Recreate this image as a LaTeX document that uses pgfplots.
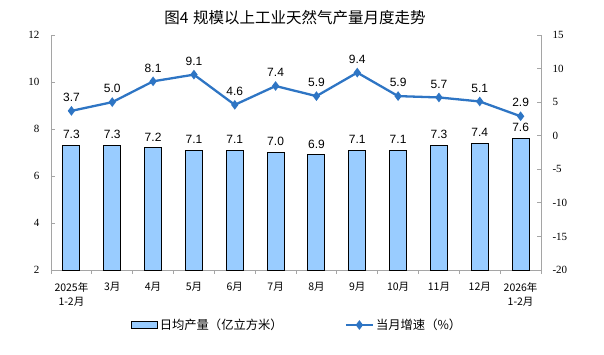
\documentclass[border=0pt]{standalone}
\usepackage{pgfplots}
\pgfplotsset{compat=1.18}
\usepackage{fontspec}
\setmainfont{Liberation Serif}
\newfontfamily\cjk{Noto Sans CJK SC}
\newfontfamily\arial{Liberation Sans}
\definecolor{barfill}{HTML}{99CCFF}
\definecolor{linec}{RGB}{46,117,196}
\definecolor{axgray}{RGB}{165,165,165}
\pgfplotsset{linelegend/.style={legend image code/.code={\draw[mark repeat=2, mark phase=2, ##1] plot coordinates {(0pt,0pt) (13.5pt,0pt) (27pt,0pt)};}}}
\begin{document}
\begin{tikzpicture}
\path[use as bounding box] (0pt,0pt) rectangle (604pt,354pt);
\node[font=\cjk\fontsize{15.5}{16}\selectfont] at (295pt,336pt) {图4\hspace{0.3em}规模以上工业天然气产量月度走势};
\begin{axis}[
  at={(51pt,84pt)}, anchor=south west,
  scale only axis, width=490pt, height=235pt,
  xmin=-0.5, xmax=11.5, ymin=2, ymax=12,
  axis x line*=bottom, axis y line*=left,
  axis line style={axgray, line width=0.8pt},
  tick align=inside,
  ytick={2,4,...,12},
  major tick length=4pt, minor tick length=4pt,
  every tick/.style={axgray, line width=0.8pt},
  xtick={0,...,11},
  minor xtick={-0.5,0.5,...,11.5},
  major x tick style={draw=none},
  xticklabels={{2025年\\1-2月},3月,4月,5月,6月,7月,8月,9月,10月,11月,12月,{2026年\\1-2月}},
  xticklabel style={font=\cjk\fontsize{10.5}{14.5}\selectfont, align=center, yshift=-5pt},
  yticklabel style={font=\fontsize{11}{12}\selectfont, xshift=-8pt},
  /pgf/number format/assume math mode=true,
  ybar, bar width=17pt,
  nodes near coords,
  nodes near coords style={font=\arial\fontsize{12}{12}\selectfont, text=black, inner sep=1pt, yshift=5pt,
    /pgf/number format/.cd, fixed, fixed zerofill, precision=1},
]
\addplot[fill=barfill, draw=black, line width=1pt] coordinates {
(0,7.3) (1,7.3) (2,7.2) (3,7.1) (4,7.1) (5,7.0) (6,6.9) (7,7.1) (8,7.1) (9,7.3) (10,7.4) (11,7.6)};
\end{axis}
\begin{axis}[
  at={(51pt,84pt)}, anchor=south west,
  scale only axis, width=490pt, height=235pt,
  xmin=-0.5, xmax=11.5, ymin=-20, ymax=15,
  axis x line=none, axis y line*=right,
  axis line style={axgray, line width=0.8pt},
  tick align=inside,
  ytick={-20,-15,...,15},
  major tick length=4pt,
  every tick/.style={axgray, line width=0.8pt},
  yticklabel style={font=\fontsize{11}{12}\selectfont, xshift=8pt},
  /pgf/number format/assume math mode=true,
  legend columns=2,
  legend style={at={(0.502,-0.234)}, anchor=center, draw=none, fill=none,
    font=\cjk\fontsize{12.3}{13}\selectfont,
    /tikz/every even column/.append style={column sep=60pt}},
  legend cell align=left,
]
\addlegendimage{legend image code/.code={\draw[fill=barfill, draw=black, line width=1pt] (0pt,-3.5pt) rectangle (26pt,3.5pt);}}
\addlegendentry{日均产量（亿立方米）}
\addplot[linec, line width=2.3pt, mark=diamond*, mark size=3pt, mark options={solid},
  nodes near coords, point meta=explicit symbolic,
  nodes near coords style={font=\arial\fontsize{12}{12}\selectfont, text=black, anchor=south, inner sep=1pt, yshift=7pt},
  linelegend]
  coordinates {
(0,3.7)[3.7] (1,5.0)[5.0] (2,8.1)[8.1] (3,9.1)[9.1] (4,4.6)[4.6] (5,7.4)[7.4] (6,5.9)[5.9] (7,9.4)[9.4] (8,5.9)[5.9] (9,5.7)[5.7] (10,5.1)[5.1] (11,2.9)[2.9]};
\addlegendentry{当月增速（\%）}
\end{axis}
\end{tikzpicture}
\end{document}
